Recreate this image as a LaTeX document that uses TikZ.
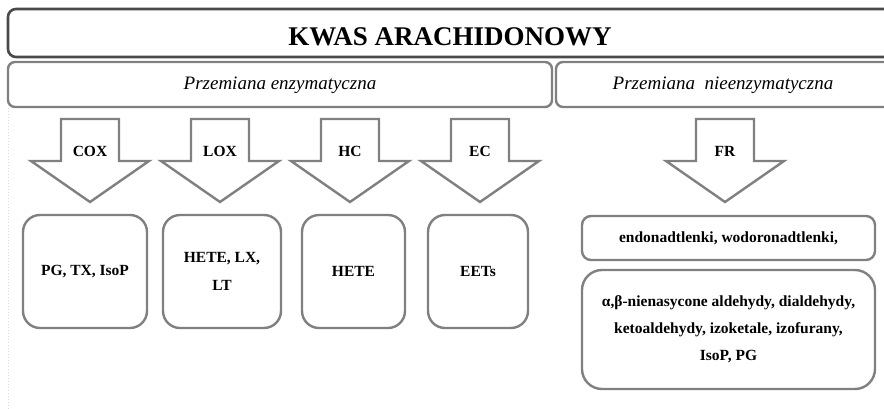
\documentclass[tikz,border=0pt]{standalone}
\usepackage{fontspec}
\setmainfont{Liberation Serif}
\definecolor{framegray}{HTML}{808080}
\definecolor{titlegray}{HTML}{4A4A4A}
\begin{document}
\begin{tikzpicture}[x=1pt, y=-1pt,
    headbox/.style={draw=titlegray, line width=2.6pt, rounded corners=8pt, fill=white},
    pathbox/.style={draw=framegray, line width=2.4pt, rounded corners=7pt, fill=white},
    product/.style={draw=framegray, line width=2.4pt, rounded corners=17pt, fill=white,
      align=center, inner sep=0pt, font={\bfseries\fontsize{15.5}{28}\selectfont}},
    blockarrow/.style={draw=framegray, line width=2.4pt, fill=white, line join=miter},
    enzyme/.style={font={\bfseries\fontsize{15.5}{18}\selectfont}, inner sep=0pt}]

  \useasboundingbox (0,0) rectangle (884,409);
  \clip (0,0) rectangle (884,409);

  % faint margin line
  \draw[gray!30, dotted, line width=1pt] (8,108) -- (8,409);

  % Header
  \draw[headbox] (8,9) rectangle (910,57);
  \node[font={\bfseries\fontsize{27}{30}\selectfont}] (title) at (450,37) {KWAS ARACHIDONOWY};

  \draw[pathbox] (8,62) rectangle (552,107);
  \draw[pathbox] (556,62) rectangle (910,107);
  \node[font={\itshape\fontsize{19}{22}\selectfont}] (enz) at (280,85) {Przemiana enzymatyczna};
  \node[font={\itshape\fontsize{19}{22}\selectfont}] (nonenz) at (723,85) {Przemiana\ \ nieenzymatyczna};

  % Arrows
  \foreach \cx/\lab/\nm in {90/COX/cox, 220/LOX/lox, 350/HC/hc, 480/EC/ec, 725/FR/fr} {
    \draw[blockarrow] (\cx-29,119) -- (\cx+29,119) -- (\cx+29,161) -- (\cx+59,161)
      -- (\cx,202) -- (\cx-59,161) -- (\cx-29,161) -- cycle;
    \node[enzyme] (\nm) at (\cx,151) {\lab};
  }

  % Products
  \node[product, minimum width=124, minimum height=113] (pg) at (85,271.5) {PG, TX, IsoP};
  \node[product, minimum width=118, minimum height=113] (hetelx) at (222,271.5) {HETE, LX,\\LT};
  \node[product, minimum width=103, minimum height=113] (hete) at (353.5,271.5) {HETE};
  \node[product, minimum width=100, minimum height=113] (eet) at (478,271.5) {EETs};

  \node[product, rounded corners=9pt, minimum width=293, minimum height=44] (perox) at (728.5,238)
    {endonadtlenki, wodoronadtlenki,};
  \node[product, rounded corners=20pt, minimum width=293, minimum height=119,
    font={\bfseries\fontsize{15.5}{27}\selectfont}] (aldeh) at (728.5,329.5)
    {α,β-nienasycone aldehydy, dialdehydy,\\ketoaldehydy, izoketale, izofurany,\\IsoP, PG};

\end{tikzpicture}
\end{document}
